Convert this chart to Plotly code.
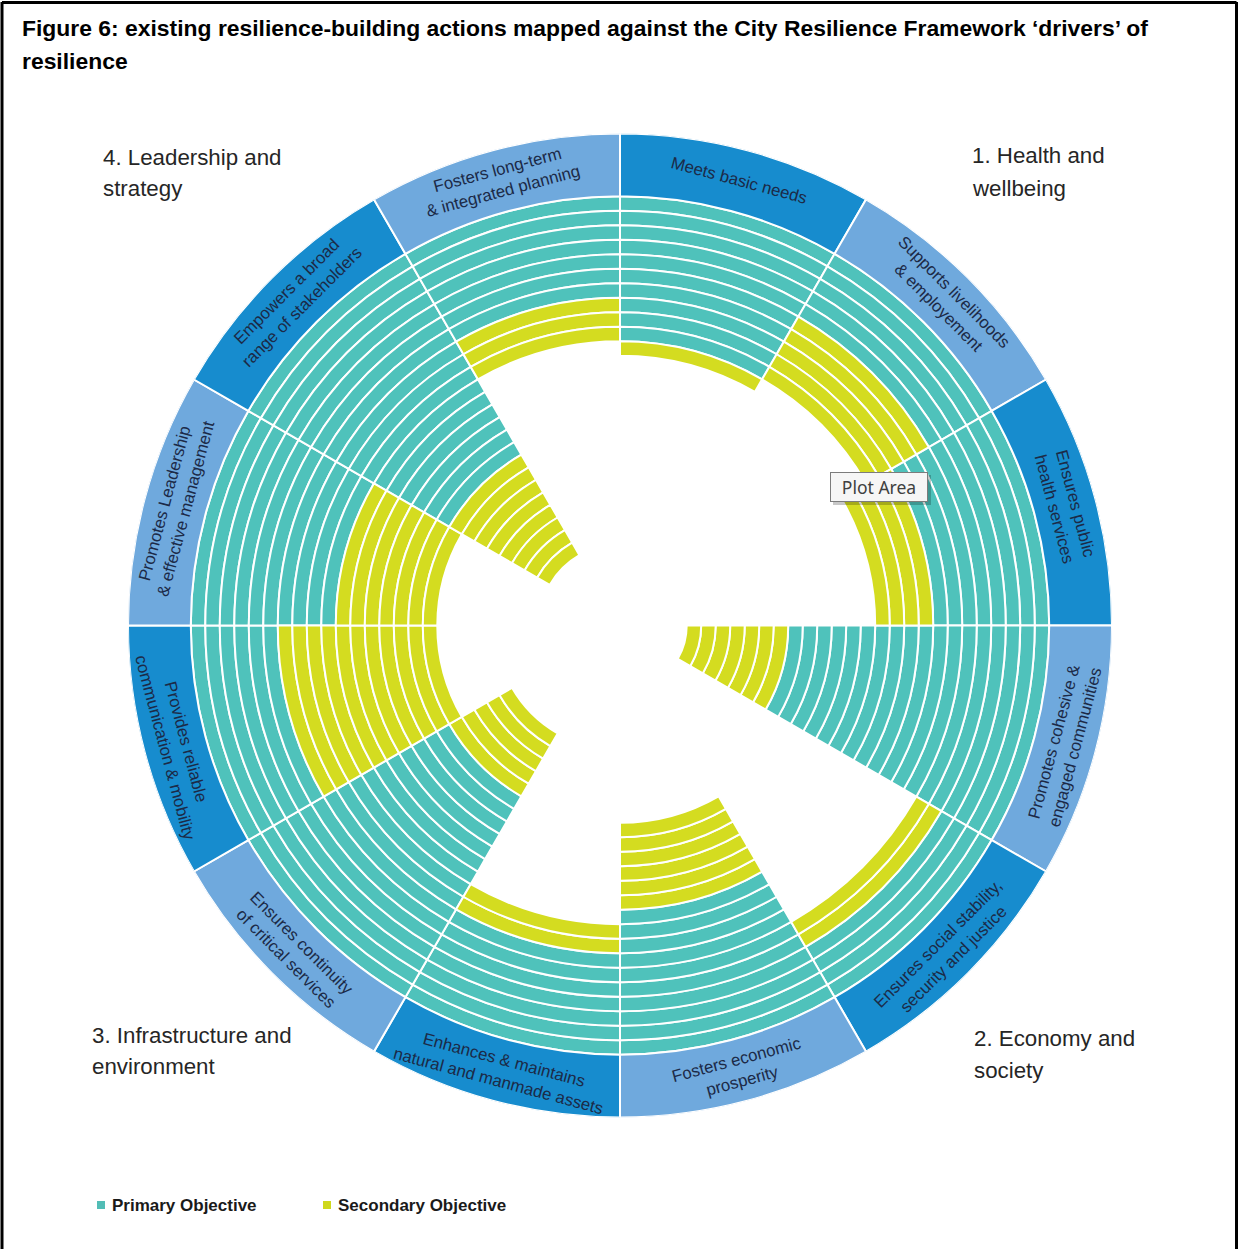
import math
import plotly.graph_objects as go

# ---------------- data ----------------
drivers = [
    "Meets basic needs",
    "Supports livelihoods<br>& employement",
    "Ensures public<br>health services",
    "Promotes cohesive &<br>engaged communities",
    "Ensures social stability,<br>security and justice",
    "Fosters economic<br>prosperity",
    "Enhances & maintains<br>natural and manmade assets",
    "Ensures continuity<br>of critical services",
    "Provides reliable<br>communication & mobility",
    "Promotes Leadership<br>& effective management",
    "Empowers a broad<br>range of stakeholders",
    "Fosters long-term<br>& integrated planning",
]
primary = [10, 5, 8, 18, 4, 10, 7, 16, 6, 10, 16, 7]
secondary = [1, 5, 4, 7, 2, 6, 2, 5, 11, 7, 8, 3]

category_lines = [
    ["1. Health and", "wellbeing"],
    ["2. Economy and", "society"],
    ["3. Infrastructure and", "environment"],
    ["4. Leadership and", "strategy"],
]
title_lines = [
    "Figure 6: existing resilience-building actions mapped against the City Resilience Framework \u2018drivers\u2019 of",
    "resilience",
]
legend_names = ["Primary Objective", "Secondary Objective"]

# ---------------- style / geometry ----------------
W, H = 1239, 1249
CX, CY = 620.0, 625.5          # circle centre (px from top-left)
R_OUT = 492.0                  # outer radius of label band (px)
HOLE = 4.6                     # empty centre, in ring units
BAND = 4.33                    # label band thickness, in ring units

TEAL = "#4fc2bb"
YELLOW = "#d4dc20"
DARK_BLUE = "#178cce"
LIGHT_BLUE = "#6fa9dd"
TEXT_NAVY = "#1c2a47"
SANS = "Liberation Sans, Arial, sans-serif"

n = len(drivers)
step = 360.0 / n
theta = [step / 2 + step * i for i in range(n)]

totals = [p + s for p, s in zip(primary, secondary)]
OUTER = HOLE + max(totals)
RMAX = OUTER + BAND
PX_PER_UNIT = R_OUT / RMAX

# ring segments, drawn from the outer edge inwards
p_theta, p_base, s_theta, s_base = [], [], [], []
for i, (p, s) in enumerate(zip(primary, secondary)):
    for k in range(p):
        p_theta.append(theta[i])
        p_base.append(OUTER - k - 1)
    for k in range(p, p + s):
        s_theta.append(theta[i])
        s_base.append(OUTER - k - 1)

fig = go.Figure()
fig.add_trace(go.Barpolar(
    r=[1] * len(p_theta), theta=p_theta, base=p_base, width=step,
    marker=dict(color=TEAL, line=dict(color="white", width=2)),
    name=legend_names[0], showlegend=False, hoverinfo="skip",
))
fig.add_trace(go.Barpolar(
    r=[1] * len(s_theta), theta=s_theta, base=s_base, width=step,
    marker=dict(color=YELLOW, line=dict(color="white", width=2)),
    name=legend_names[1], showlegend=False, hoverinfo="skip",
))
band_colors = [DARK_BLUE if i % 2 == 0 else LIGHT_BLUE for i in range(n)]
fig.add_trace(go.Barpolar(
    r=[BAND] * n, theta=theta, base=[OUTER] * n, width=step,
    marker=dict(color=band_colors, line=dict(color="white", width=2)),
    showlegend=False, hoverinfo="skip",
))

dom_x = [(CX - R_OUT) / W, (CX + R_OUT) / W]
dom_y = [(H - CY - R_OUT) / H, (H - CY + R_OUT) / H]

annotations = []

# sector labels in the band
r_lab = (OUTER + BAND / 2) * PX_PER_UNIT
for i, label in enumerate(drivers):
    b = theta[i]
    px = CX + r_lab * math.sin(math.radians(b))
    py = CY - r_lab * math.cos(math.radians(b))
    if b < 90:
        ang = b
    elif b < 270:
        ang = b - 180
    else:
        ang = b - 360
    annotations.append(dict(
        x=px / W, y=1 - py / H, xref="paper", yref="paper",
        text=label, showarrow=False, textangle=ang,
        xanchor="center", yanchor="middle",
        font=dict(family=SANS, size=16.8, color=TEXT_NAVY),
    ))

# category labels
cat_pos = [(970, 156, 188), (972, 1038, 1070), (90, 1035, 1066), (101, 157, 189)]
for lines, (x0, y1, y2) in zip(category_lines, cat_pos):
    for txt, yy in zip(lines, (y1, y2)):
        annotations.append(dict(
            x=x0 / W, y=1 - yy / H, xref="paper", yref="paper",
            text=txt, showarrow=False, xanchor="left", yanchor="middle",
            font=dict(family=SANS, size=22.3, color="#262626"),
        ))

# title
for txt, yy in zip(title_lines, (28, 61)):
    annotations.append(dict(
        x=20 / W, y=1 - yy / H, xref="paper", yref="paper",
        text="<b>" + txt + "</b>", showarrow=False, xanchor="left", yanchor="middle",
        font=dict(family=SANS, size=22.9, color="#000000"),
    ))

# legend
leg_x = [97, 323]
leg_cols = ["#52bdb6", "#cfd81c"]
shapes = []
for name, lx, col in zip(legend_names, leg_x, leg_cols):
    shapes.append(dict(type="rect", xref="paper", yref="paper",
                       x0=lx / W, x1=(lx + 8) / W, y0=1 - 1209 / H, y1=1 - 1201 / H,
                       fillcolor=col, line=dict(width=0)))
    annotations.append(dict(
        x=(lx + 13) / W, y=1 - 1205 / H, xref="paper", yref="paper",
        text="<b>" + name + "</b>", showarrow=False, xanchor="left", yanchor="middle",
        font=dict(family=SANS, size=17, color="#1a1a1a"),
    ))

# "Plot Area" tooltip
shapes.append(dict(type="rect", xref="paper", yref="paper",
                   x0=833 / W, x1=931 / W, y0=1 - 505 / H, y1=1 - 475 / H,
                   fillcolor="rgba(0,0,0,0.22)", line=dict(width=0), layer="above"))
annotations.append(dict(
    x=879 / W, y=1 - 487 / H, xref="paper", yref="paper",
    text="Plot Area", showarrow=False, xanchor="center", yanchor="middle",
    font=dict(family="Noto Sans, sans-serif", size=17.5, color="#404040"),
    width=92, height=24,
    bgcolor="#f6f6f6", bordercolor="#7c7c7c", borderwidth=1, borderpad=2,
))

# page frame
shapes.append(dict(type="line", xref="paper", yref="paper", x0=2 / W, x1=2 / W, y0=-0.01, y1=1 - 2 / H,
                   line=dict(color="black", width=3)))
shapes.append(dict(type="line", xref="paper", yref="paper", x0=1236.5 / W, x1=1236.5 / W, y0=-0.01, y1=1 - 2 / H,
                   line=dict(color="black", width=3)))
shapes.append(dict(type="line", xref="paper", yref="paper", x0=2 / W, x1=1236.5 / W, y0=1 - 2.5 / H, y1=1 - 2.5 / H,
                   line=dict(color="black", width=3)))

fig.update_layout(
    width=W, height=H,
    margin=dict(l=0, r=0, t=0, b=0),
    paper_bgcolor="white", plot_bgcolor="white",
    showlegend=False,
    polar=dict(
        domain=dict(x=dom_x, y=dom_y),
        bgcolor="white",
        barmode="overlay",
        hole=0,
        radialaxis=dict(range=[0, RMAX], visible=False, showgrid=False),
        angularaxis=dict(rotation=90, direction="clockwise", visible=False, showgrid=False),
    ),
    annotations=annotations,
    shapes=shapes,
)

fig.write_html(
    "out.html",
    config={"displayModeBar": False},
    post_script="document.body.style.margin='0';document.body.style.overflow='hidden';",
)
